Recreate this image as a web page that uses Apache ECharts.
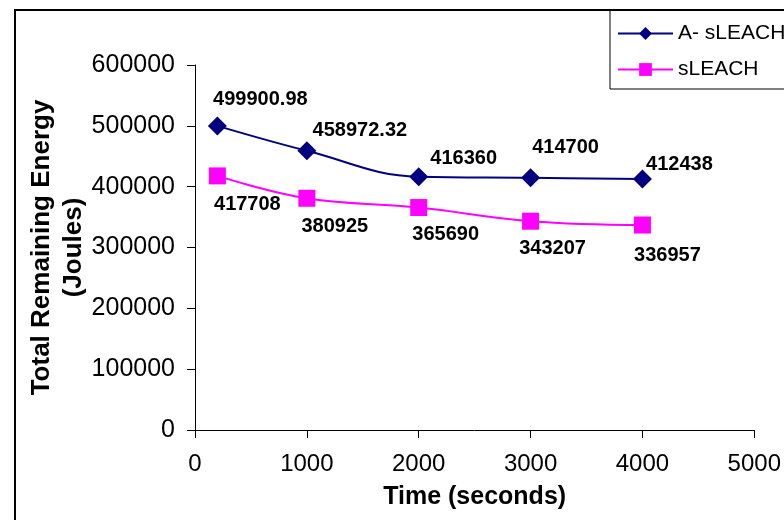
<!DOCTYPE html>
<html>
<head>
<meta charset="utf-8">
<script src="https://cdn.jsdelivr.net/npm/echarts@6/dist/echarts.min.js"></script>
<style>
  html, body { margin: 0; padding: 0; background: #fff; }
  #chart { width: 784px; height: 520px; }
</style>
</head>
<body>
<div id="chart"></div>
<script>
// time (seconds)
var times = [200, 1000, 2000, 3000, 4000];
// total remaining energy (Joules)
var aSleach = [499900.98, 458972.32, 416360, 414700, 412438];
var sleach = [417708, 380925, 365690, 343207, 336957];
var labelsA = ['499900.98', '458972.32', '416360', '414700', '412438'];
var labelsS = ['417708', '380925', '365690', '343207', '336957'];

// label offsets from the marker centre, as placed in the original
var offsetsA = [[43, -26], [53, -20], [45, -18], [35, -30], [37, -15]];
var offsetsS = [[30, 29], [28, 28], [27, 27], [22, 27], [25, 30]];

var font = 'Liberation Sans, Arial, sans-serif';

function buildData(xs, ys, labels, offsets) {
  var out = [];
  for (var i = 0; i < xs.length; i++) {
    out.push({
      value: [xs[i], ys[i]],
      label: { offset: offsets[i], formatter: labels[i] }
    });
  }
  return out;
}

var myChart = echarts.init(document.getElementById('chart'));

var labelStyle = {
  show: true,
  position: 'inside',
  color: '#000',
  fontFamily: font,
  fontWeight: 'bold',
  fontSize: 20
};

var option = {
  backgroundColor: '#fff',
  animation: false,
  graphic: [
    {
      type: 'rect',
      shape: { x: 15, y: 10, width: 820, height: 600 },
      style: { fill: 'none', stroke: '#000', lineWidth: 2 },
      silent: true
    }
  ],
  legend: {
    orient: 'vertical',
    left: 610,
    top: 10,
    padding: [13, 40, 9, 7],
    itemGap: 15,
    itemWidth: 55,
    itemHeight: 16,
    borderColor: '#000',
    borderWidth: 1,
    textStyle: { color: '#000', fontFamily: font, fontSize: 21, lineHeight: 20 },
    data: ['A- sLEACH', 'sLEACH']
  },
  grid: { left: 195, right: 29, top: 65, bottom: 90 },
  xAxis: {
    type: 'value',
    min: 0,
    max: 5000,
    interval: 1000,
    name: 'Time (seconds)',
    nameLocation: 'middle',
    nameGap: 55,
    nameMoveOverlap: false,
    nameTextStyle: { color: '#000', fontFamily: font, fontWeight: 'bold', fontSize: 25 },
    axisLine: { lineStyle: { color: '#000', width: 1 } },
    axisTick: { show: true, length: 8, lineStyle: { color: '#000' } },
    axisLabel: { color: '#000', fontFamily: font, fontSize: 24, margin: 22, formatter: function (v) { return String(v); } },
    splitLine: { show: false }
  },
  yAxis: {
    type: 'value',
    min: 0,
    max: 600000,
    interval: 100000,
    name: 'Total Remaining Energy\n(Joules)',
    nameLocation: 'middle',
    nameGap: 105,
    nameMoveOverlap: false,
    nameTextStyle: { color: '#000', fontFamily: font, fontWeight: 'bold', fontSize: 26, lineHeight: 32 },
    axisLine: { show: true, lineStyle: { color: '#000', width: 1 } },
    axisTick: { show: true, length: 8, lineStyle: { color: '#000' } },
    axisLabel: { color: '#000', fontFamily: font, fontSize: 25, margin: 20, formatter: function (v) { return String(v); } },
    splitLine: { show: false }
  },
  series: [
    {
      name: 'A- sLEACH',
      type: 'line',
      smooth: 0.4,
      symbol: 'diamond',
      symbolSize: 19,
      color: '#000080',
      lineStyle: { color: '#000080', width: 2 },
      itemStyle: { color: '#000080' },
      label: labelStyle,
      data: buildData(times, aSleach, labelsA, offsetsA)
    },
    {
      name: 'sLEACH',
      type: 'line',
      smooth: 0.4,
      symbol: 'rect',
      symbolSize: 17,
      color: '#FF00FF',
      lineStyle: { color: '#FF00FF', width: 2 },
      itemStyle: { color: '#FF00FF' },
      label: labelStyle,
      data: buildData(times, sleach, labelsS, offsetsS)
    }
  ]
};

myChart.setOption(option);
</script>
</body>
</html>
